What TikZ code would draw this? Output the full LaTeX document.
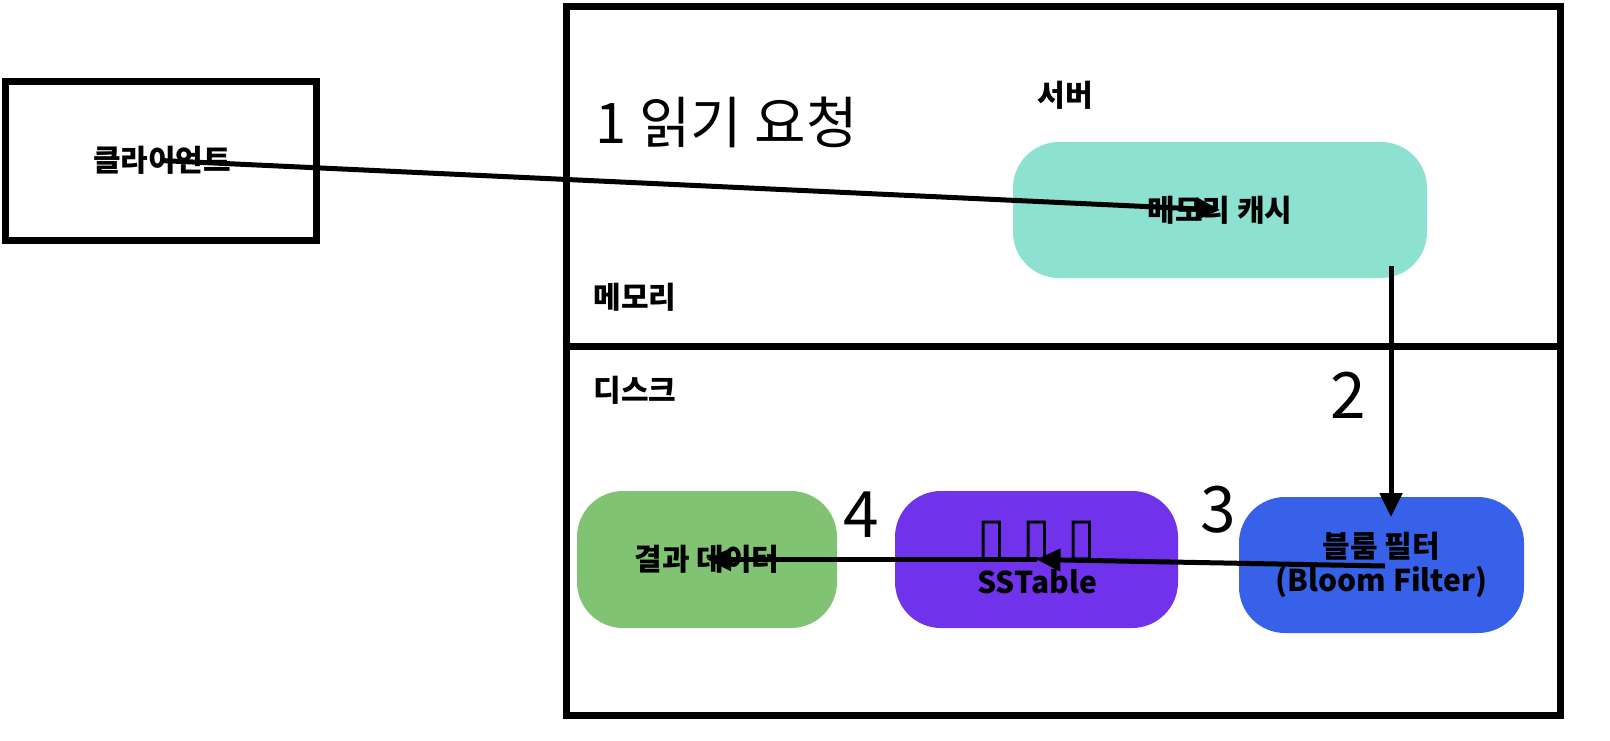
\documentclass[tikz,border=0pt]{standalone}
\usepackage{fontspec}
\setmainfont{Noto Sans CJK KR}
\newfontfamily\symfnt{DejaVu Sans}
\usetikzlibrary{arrows.meta}
\definecolor{cachec}{HTML}{8DE1D0}
\definecolor{bloomc}{HTML}{3761E8}
\definecolor{sstc}{HTML}{7033EB}
\definecolor{resc}{HTML}{80C473}
\tikzset{
  frame/.style={draw=black, line width=3.5pt},
  blob/.style={rectangle, rounded corners=23pt, inner sep=0pt, align=center, font=\fontsize{15}{17}\selectfont\bfseries},
  lbl/.style={font=\fontsize{15}{17}\selectfont\bfseries, inner sep=0pt},
  big/.style={font=\fontsize{32}{36}\selectfont, inner sep=0pt},
  conn/.style={line width=2.5pt, -{Triangle[length=12pt,width=11pt]}}
}
\begin{document}
\begin{tikzpicture}[x=0.5pt,y=-0.5pt]
\useasboundingbox (0,0) rectangle (1610,740);
% client
\node[frame, minimum width=155.5pt, minimum height=79.5pt, inner sep=0pt] (client) at (160.5,160.5) {};
\node[lbl] (clientl) at (162,160) {클라이언트};
% server
\node[frame, minimum width=497pt, minimum height=354.5pt, inner sep=0pt] (server) at (1063,360.5) {};
\coordinate (divy) at (0,346);
\draw[frame] (server.west |- divy) -- (server.east |- divy);
\node[lbl] (serverl) at (1065,95) {서버};
\node[font=\fontsize{28}{32}\selectfont, anchor=west, inner sep=0pt] (title) at (595,122) {1 읽기 요청};
\node[lbl, anchor=west] (meml) at (593,297) {메모리};
\node[lbl, anchor=west] (diskl) at (593,390) {디스크};
% nodes
\node[blob, fill=cachec, minimum width=207pt, minimum height=68pt] (cache) at (1220,210) {메모리 캐시};
\node[blob, fill=bloomc, minimum width=142.5pt, minimum height=68pt] (bloom) at (1381.5,565) {블룸 필터\\(Bloom Filter)};
\node[blob, fill=sstc, minimum width=141.5pt, minimum height=68.5pt] (sst) at (1036.5,559.5) {};
\node[inner sep=0pt, font=\symfnt\fontsize{26}{28}\selectfont] (sstt) at (1037,541) {▯ ▯ ▯};
\node[lbl] (sstb) at (1037,582) {SSTable};
\node[blob, fill=resc, minimum width=130pt, minimum height=68.5pt] (res) at (707,559.5) {결과 데이터};
% numbers
\node[big] (n2) at (1348,395) {2};
\node[big] (n3) at (1218,510) {3};
\node[big] (n4) at (861,515) {4};
% connectors
\coordinate (cs) at (1391,266);
\coordinate (bt) at (1391,517);
\coordinate (bs) at (1385,566);
\draw[conn] (client.center) -- (cache.center);
\draw[conn] (cs) -- (bt);
\draw[conn] (bs) -- (sst.center);
\draw[conn] (sst.center) -- (res.center);
\end{tikzpicture}
\end{document}
